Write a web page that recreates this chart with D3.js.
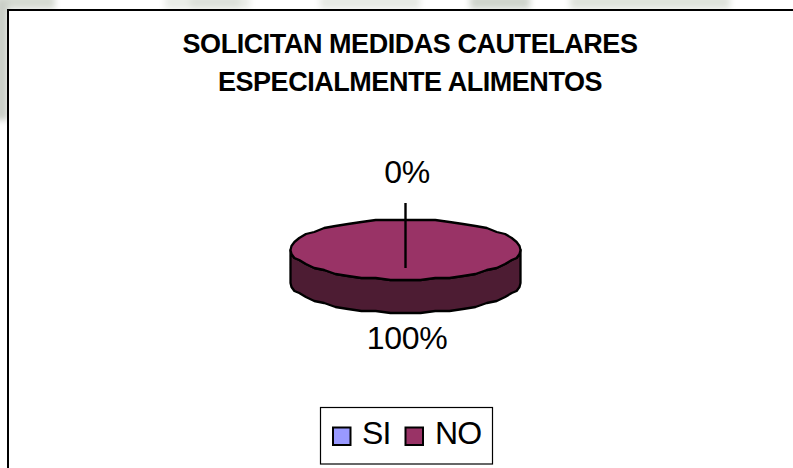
<!DOCTYPE html>
<html><head><meta charset="utf-8">
<script src="https://cdnjs.cloudflare.com/ajax/libs/d3/7.8.5/d3.min.js"></script>
<style>html,body{margin:0;padding:0;background:#fff}svg{display:block}text{font-family:"Liberation Sans",Arial,sans-serif;fill:#000}</style>
</head><body><div id="c"></div>
<script>
const titleLines = ["SOLICITAN MEDIDAS CAUTELARES", "ESPECIALMENTE ALIMENTOS"];
const categories = ["SI", "NO"];
const values = [0, 100];
const topColors = ["#9999ff", "#993366"];
const sideColor = "#4d1c33";

const W = 793, H = 468;
const svg = d3.select("#c").append("svg").attr("width", W).attr("height", H);
const defs = svg.append("defs");
defs.append("filter").attr("id", "blur").append("feGaussianBlur").attr("stdDeviation", 3);

// faint watermark behind the chart
const wm = svg.append("g").attr("filter", "url(#blur)");
[[-5,-5,60,14,"#d5dad2"],[165,-5,85,14,"#e9ece7"],[190,-5,50,14,"#dde1da"],[320,-5,100,14,"#e6e9e4"],[470,-5,60,14,"#cfd4cc"],[570,-5,160,14,"#dfe3dc"],[-5,0,13,120,"#c9cec6"]]
  .forEach(d => wm.append("rect").attr("x", d[0]).attr("y", d[1]).attr("width", d[2]).attr("height", d[3]).attr("fill", d[4]));

// chart area frame (runs off the right and bottom of the picture)
svg.append("rect").attr("x", 8).attr("y", 10).attr("width", W + 20).attr("height", H + 20)
  .attr("fill", "#fff").attr("stroke", "#000").attr("stroke-width", 2);

// title
const title = svg.append("g").attr("font-weight", "bold").attr("font-size", 27).attr("text-anchor", "middle");
titleLines.forEach((t, i) => title.append("text").attr("x", 410).attr("y", 53 + i * 38).attr("letter-spacing", -0.45).text(t));

// pie
const cx = 405.5, cy = 249.5, rx = 115, ry = 30, depth = 33;
const pie = d3.pie().sort(null).value(d => d);
const arcs = pie(values);
const xs = d3.scaleLinear().domain([-1, 1]).range([cx - rx, cx + rx]);
const ys = d3.scaleLinear().domain([-1, 1]).range([cy - ry, cy + ry]);
const snap = v => Math.round(v / 2) * 2;
const rim = (a, dy = 0) => [xs(Math.sin(a)), snap(ys(-Math.cos(a))) + dy];
const line = d3.line();
const step = Math.PI / 24;
const sample = (a0, a1) => { const n = Math.max(1, Math.round((a1 - a0) / step)); return d3.range(n + 1).map(i => a0 + (a1 - a0) * i / n); };

const front = sample(Math.PI / 2, Math.PI * 1.5);
const stroke = {stroke: "#000", "stroke-width": 2.3, "stroke-linejoin": "round"};
const side = svg.append("path").attr("fill", sideColor)
  .attr("d", line(front.map(a => rim(a)).concat(front.slice().reverse().map(a => rim(a, depth)))) + "Z");
Object.entries(stroke).forEach(([k, v]) => side.attr(k, v));

arcs.filter(d => d.endAngle > d.startAngle).forEach(d => {
  const p = svg.append("path").attr("fill", topColors[d.index])
    .attr("d", line(sample(d.startAngle, d.endAngle).map(a => rim(a))) + "Z");
  Object.entries(stroke).forEach(([k, v]) => p.attr(k, v));
});

// boundary of the empty slice + leader to its label
svg.append("line").attr("x1", 405.5).attr("x2", 405.5).attr("y1", 203).attr("y2", 268)
  .attr("stroke", "#000").attr("stroke-width", 2.4);

// data labels
const fmt = d3.format(".0%");
const total = d3.sum(values);
const labelY = [183, 349];
const labels = svg.append("g").attr("font-size", 32).attr("text-anchor", "middle");
values.forEach((v, i) => labels.append("text").attr("x", 407).attr("y", labelY[i]).attr("letter-spacing", -0.3).text(fmt(v / total)));

// legend
svg.append("rect").attr("x", 320.5).attr("y", 407.5).attr("width", 172).attr("height", 56.5)
  .attr("fill", "#fff").attr("stroke", "#000").attr("stroke-width", 1.2);
const swatchX = [333, 405.5], textX = [362, 435];
categories.forEach((c, i) => {
  svg.append("rect").attr("x", swatchX[i]).attr("y", 427.5).attr("width", 17.5).attr("height", 17.5)
    .attr("fill", topColors[i]).attr("stroke", "#000").attr("stroke-width", 2);
  svg.append("text").attr("x", textX[i]).attr("y", 444).attr("font-size", 32).attr("letter-spacing", -0.8).text(c);
});
</script></body></html>
